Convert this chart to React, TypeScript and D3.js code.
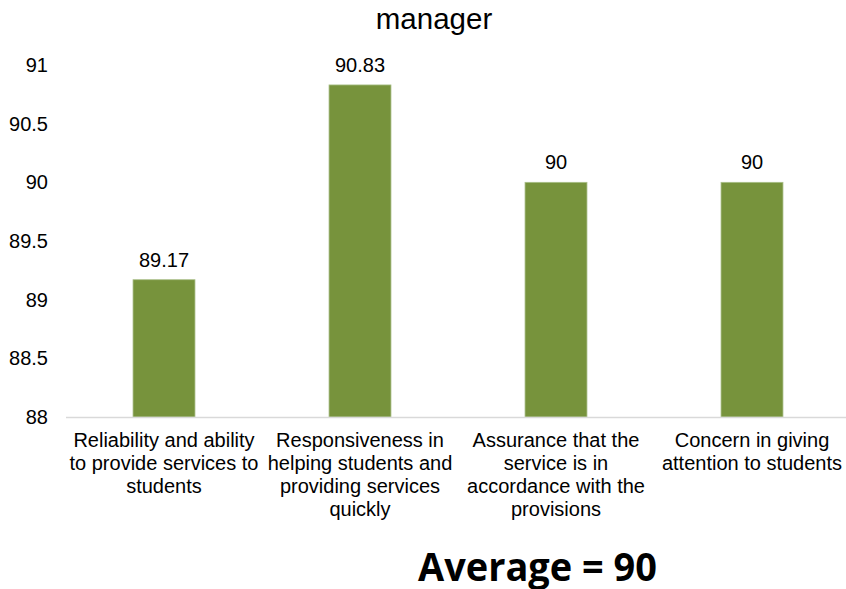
import React from "react";
import * as d3 from "d3";

const title = "manager";
const categories = [
  "Reliability and ability to provide services to students",
  "Responsiveness in helping students and providing services quickly",
  "Assurance that the service is in accordance with the provisions",
  "Concern in giving attention to students",
];
const categoryLines = [
  ["Reliability and ability", "to provide services to", "students"],
  ["Responsiveness in", "helping students and", "providing services", "quickly"],
  ["Assurance that the", "service is in", "accordance with the", "provisions"],
  ["Concern in giving", "attention to students"],
];
const values = [89.17, 90.83, 90, 90];
const valueLabels = ["89.17", "90.83", "90", "90"];
const yTicks = [88, 88.5, 89, 89.5, 90, 90.5, 91];
const footer = "Average = 90";

export default function App() {
  const W = 846, H = 589;
  const x0 = 66, x1 = 850;
  const yTop = 65, yBottom = 417;
  const x = d3.scaleBand<string>().domain(categories).range([x0, x1]).paddingInner(0.684).paddingOuter(0.342);
  const y = d3.scaleLinear().domain([88, 91]).range([yBottom, yTop]);
  const font = "'Liberation Sans', Arial, sans-serif";
  return (
    <svg width={W} height={H} style={{ position: "absolute", left: 0, top: 0, background: "#fff" }}>
      <text x={434} y={29} textAnchor="middle" fontFamily={font} fontSize={29.5} fill="#000">{title}</text>
      {yTicks.map((t) => (
        <text key={t} x={48} y={y(t) + 7} textAnchor="end" fontFamily={font} fontSize={20} fill="#000">{t}</text>
      ))}
      {categories.map((c, i) => (
        <g key={c}>
          <rect x={x(c)!} y={y(values[i])} width={x.bandwidth()} height={yBottom - y(values[i])} fill="#77933C" stroke="#a9bf88" strokeWidth={0.8} />
          <text x={x(c)! + x.bandwidth() / 2} y={y(values[i]) - 13} textAnchor="middle" fontFamily={font} fontSize={20} fill="#000">{valueLabels[i]}</text>
          {categoryLines[i].map((l, j) => (
            <text key={j} x={x(c)! + x.bandwidth() / 2} y={447 + j * 23} textAnchor="middle" fontFamily={font} fontSize={20} fill="#000">{l}</text>
          ))}
        </g>
      ))}
      <line x1={x0} x2={x1} y1={yBottom + 0.5} y2={yBottom + 0.5} stroke="#d9d9d9" strokeWidth={1.5} />
      <text x={537.5} y={581} textAnchor="middle" fontFamily="'Open Sans', sans-serif" fontWeight="bold" fontSize={40} textLength={239} lengthAdjust="spacingAndGlyphs" fill="#000">{footer}</text>
    </svg>
  );
}
